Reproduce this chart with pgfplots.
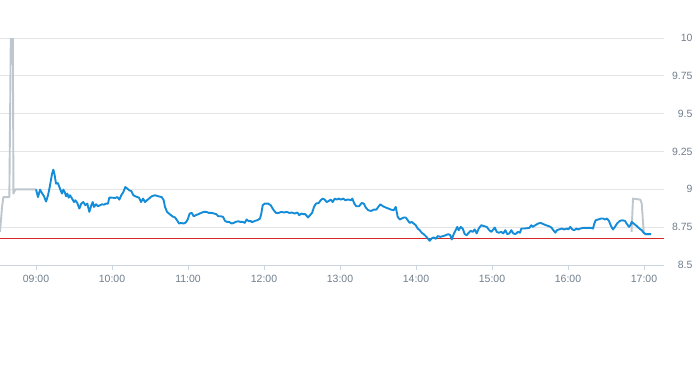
\documentclass[border=0pt]{standalone}
\usepackage{pgfplots}
\pgfplotsset{compat=1.18}
\usepackage{fontspec}
\setmainfont{Liberation Sans}
\definecolor{blueline}{RGB}{20,140,216}
\definecolor{greyline}{RGB}{190,198,206}
\definecolor{gridcol}{RGB}{228,228,228}
\definecolor{axiscol}{RGB}{204,214,225}
\definecolor{labcol}{RGB}{112,126,140}
\definecolor{redline}{RGB}{214,40,40}
\begin{document}
\begin{tikzpicture}
\useasboundingbox (0pt,-100pt) rectangle (693pt,265pt);
\begin{axis}[
  at={(0pt,0pt)}, anchor=south west,
  scale only axis, width=664pt, height=227pt,
  xmin=8.526, xmax=17.263, ymin=8.5, ymax=10,
  axis line style={draw=none},
  xtick={9,10,11,12,13,14,15,16,17},
  xticklabels={09:00,10:00,11:00,12:00,13:00,14:00,15:00,16:00,17:00},
  ytick={8.5,8.75,9,9.25,9.5,9.75,10},
  yticklabels={8.5,8.75,9,9.25,9.5,9.75,10},
  yticklabel pos=right,
  ytick style={draw=none},
  xtick pos=bottom,
  x tick style={axiscol, line width=0.8pt},
  tick align=outside, major tick length=5pt,
  ymajorgrids, grid style={gridcol, line width=0.8pt},
  /pgf/number format/assume math mode=true,
  ticklabel style={font=\fontsize{10.5}{12}\selectfont, text=labcol},
  yticklabel style={anchor=east, xshift=27pt},
  xticklabel style={yshift=-2pt},
]
\draw[axiscol, line width=0.8pt] (rel axis cs:0,0) -- (rel axis cs:1,0);
\addplot[redline, line width=0.8pt] coordinates {(8.526,8.677) (17.263,8.677)};
\addplot[greyline, line width=1.9pt, line join=round] coordinates {
(8.526,8.717) (8.553,8.884) (8.570,8.949) (8.649,8.949) (8.668,10.0) (8.695,10.0)
(8.703,8.972) (8.728,9.0) (8.987,9.0) (9.000,9.000)};
\addplot[greyline, line width=1.9pt, line join=round] coordinates {
(16.836,8.719) (16.855,8.939) (16.951,8.932) (16.970,8.906) (16.996,8.719) (17.013,8.704) (17.092,8.704)};
\addplot[blueline, line width=1.9pt, line join=round] coordinates {
(9.000,9.000) (9.026,8.949) (9.053,8.998) (9.079,8.974) (9.105,8.954) (9.132,8.919)
(9.158,8.961) (9.184,9.026) (9.211,9.103) (9.228,9.130) (9.246,9.092) (9.263,9.038)
(9.289,9.041) (9.307,9.015) (9.325,8.993) (9.342,8.972) (9.359,8.998) (9.378,8.982)
(9.395,8.954) (9.412,8.972) (9.430,8.945) (9.447,8.961) (9.474,8.939) (9.500,8.916)
(9.517,8.928) (9.543,8.910) (9.570,8.873) (9.596,8.906) (9.622,8.916) (9.649,8.895)
(9.675,8.906) (9.701,8.851) (9.728,8.895) (9.746,8.916) (9.763,8.884) (9.789,8.901)
(9.816,8.888) (9.842,8.895) (9.868,8.901) (9.895,8.899) (9.921,8.906) (9.947,8.906)
(9.964,8.945) (10.000,8.945) (10.043,8.943) (10.070,8.949) (10.096,8.932) (10.122,8.961)
(10.149,8.982) (10.175,9.015) (10.201,9.005) (10.228,8.993) (10.254,8.989) (10.280,8.961)
(10.307,8.954) (10.333,8.949) (10.355,8.945) (10.382,8.916) (10.408,8.939) (10.434,8.916)
(10.461,8.928) (10.487,8.939) (10.522,8.954) (10.566,8.961) (10.609,8.954) (10.654,8.949)
(10.680,8.928) (10.697,8.884) (10.724,8.851) (10.759,8.836) (10.793,8.822) (10.829,8.814)
(10.855,8.796) (10.882,8.774) (10.908,8.778) (10.943,8.774) (10.970,8.781) (10.996,8.801)
(11.022,8.840) (11.049,8.844) (11.075,8.822) (11.101,8.829) (11.136,8.836) (11.171,8.844)
(11.207,8.851) (11.241,8.851) (11.276,8.844) (11.312,8.844) (11.346,8.840) (11.372,8.836)
(11.399,8.822) (11.434,8.822) (11.461,8.818) (11.487,8.791) (11.513,8.785) (11.539,8.785)
(11.575,8.774) (11.601,8.778) (11.628,8.785) (11.662,8.789) (11.688,8.785) (11.720,8.785)
(11.746,8.778) (11.772,8.801) (11.799,8.789) (11.825,8.791) (11.842,8.783) (11.878,8.791)
(11.912,8.796) (11.947,8.807) (11.964,8.840) (11.983,8.895) (12.009,8.906) (12.053,8.906)
(12.088,8.895) (12.122,8.866) (12.158,8.844) (12.193,8.844) (12.228,8.851) (12.263,8.847)
(12.299,8.851) (12.333,8.844) (12.368,8.847) (12.404,8.840) (12.438,8.847) (12.464,8.829)
(12.491,8.840) (12.517,8.836) (12.543,8.836) (12.579,8.814) (12.605,8.829) (12.632,8.844)
(12.658,8.884) (12.684,8.906) (12.720,8.910) (12.746,8.928) (12.772,8.939) (12.799,8.932)
(12.825,8.916) (12.851,8.923) (12.878,8.932) (12.904,8.916) (12.930,8.939) (12.957,8.932)
(12.983,8.939) (13.009,8.932) (13.043,8.939) (13.070,8.928) (13.096,8.932) (13.118,8.932)
(13.145,8.928) (13.162,8.939) (13.188,8.906) (13.214,8.888) (13.250,8.888) (13.286,8.910)
(13.312,8.906) (13.338,8.880) (13.372,8.862) (13.408,8.857) (13.443,8.866) (13.478,8.866)
(13.504,8.884) (13.530,8.901) (13.566,8.888) (13.601,8.880) (13.636,8.873) (13.671,8.866)
(13.707,8.862) (13.733,8.884) (13.759,8.818) (13.786,8.801) (13.812,8.807) (13.838,8.814)
(13.864,8.814) (13.891,8.796) (13.917,8.778) (13.943,8.785) (13.970,8.774) (13.996,8.763)
(14.022,8.741) (14.049,8.730) (14.075,8.713) (14.101,8.704) (14.128,8.691) (14.154,8.676)
(14.180,8.660) (14.207,8.676) (14.233,8.682) (14.259,8.673) (14.286,8.691) (14.320,8.686)
(14.355,8.691) (14.391,8.697) (14.425,8.704) (14.451,8.697) (14.470,8.669) (14.500,8.709)
(14.526,8.735) (14.543,8.752) (14.562,8.730) (14.588,8.752) (14.614,8.741) (14.641,8.704)
(14.667,8.697) (14.693,8.713) (14.720,8.726) (14.746,8.719) (14.772,8.735) (14.799,8.709)
(14.825,8.741) (14.859,8.763) (14.895,8.757) (14.930,8.752) (14.964,8.730) (14.991,8.719)
(15.017,8.735) (15.036,8.748) (15.062,8.719) (15.088,8.713) (15.122,8.719) (15.149,8.709)
(15.175,8.730) (15.201,8.704) (15.228,8.709) (15.254,8.730) (15.280,8.709) (15.307,8.704)
(15.342,8.719) (15.368,8.713) (15.386,8.741) (15.421,8.741) (15.457,8.743) (15.491,8.745)
(15.517,8.763) (15.536,8.752) (15.570,8.763) (15.605,8.774) (15.641,8.778) (15.675,8.770)
(15.711,8.763) (15.746,8.757) (15.780,8.748) (15.807,8.730) (15.833,8.714) (15.855,8.730)
(15.882,8.735) (15.917,8.741) (15.951,8.735) (15.987,8.741) (16.004,8.735) (16.030,8.752)
(16.057,8.735) (16.083,8.730) (16.109,8.741) (16.136,8.735) (16.162,8.741) (16.197,8.745)
(16.233,8.745) (16.267,8.745) (16.303,8.745) (16.329,8.741) (16.346,8.774) (16.364,8.796)
(16.399,8.801) (16.434,8.807) (16.461,8.807) (16.487,8.801) (16.513,8.807) (16.539,8.791)
(16.566,8.757) (16.592,8.735) (16.618,8.752) (16.645,8.774) (16.680,8.791) (16.714,8.796)
(16.750,8.791) (16.776,8.770) (16.803,8.752) (16.820,8.763) (16.838,8.785) (16.864,8.774)
(16.891,8.763) (16.917,8.752) (16.943,8.739) (16.970,8.730) (16.996,8.713) (17.022,8.704)
(17.057,8.704) (17.092,8.704)};
\end{axis}
\end{tikzpicture}
\end{document}
